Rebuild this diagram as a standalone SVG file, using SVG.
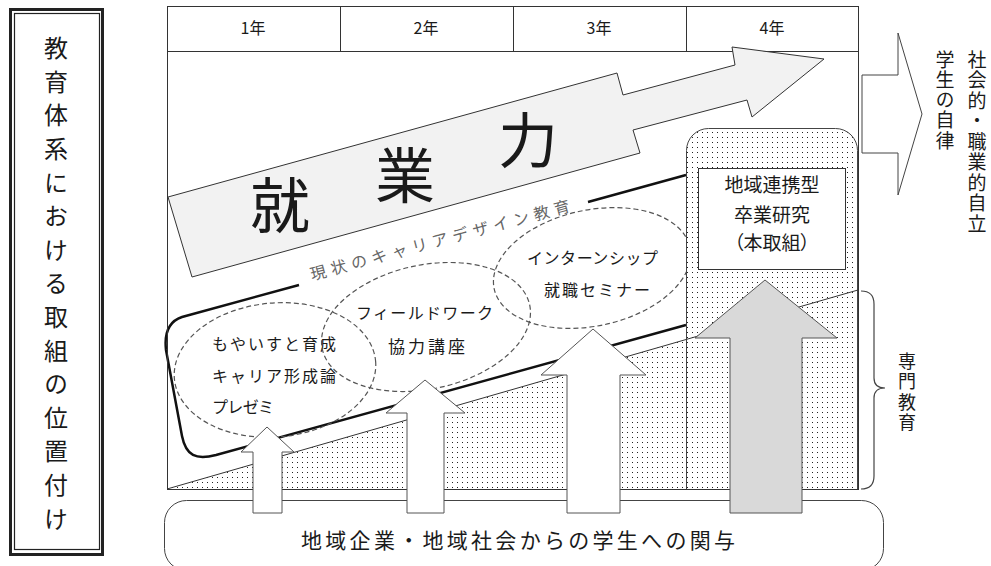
<svg xmlns="http://www.w3.org/2000/svg" width="991" height="566" viewBox="0 0 991 566">
<style>
text{font-family:"Noto Sans CJK JP","Noto Sans CJK SC",sans-serif;fill:#1a1a1a}
.vt{writing-mode:vertical-rl}
.ln{fill:none;stroke:#333;stroke-width:1}
.dash{fill:none;stroke:#555;stroke-width:1.2;stroke-dasharray:5 3}
.warr{fill:#fff;stroke:#555;stroke-width:1}
.t16{font-size:16px}
</style>
<defs>
<pattern id="dots" width="5" height="5" patternUnits="userSpaceOnUse">
<rect x="2" y="2" width="1" height="1" fill="#222"/>
</pattern>
</defs>
<rect width="991" height="566" fill="#fff"/>

<g id="left-title">
<rect x="10.5" y="9.5" width="92" height="545" fill="#fff" stroke="#222" stroke-width="3"/>
<rect x="14.5" y="13.5" width="85" height="536" fill="none" stroke="#222" stroke-width="1.2"/>
<text x="56" y="36" class="vt" font-size="24" letter-spacing="9.6">教育体系における取組の位置付け</text>
</g>

<g id="header">
<line x1="167" y1="6.5" x2="858" y2="6.5" class="ln"/>
<line x1="340.5" y1="6" x2="340.5" y2="51" class="ln"/>
<line x1="513.5" y1="6" x2="513.5" y2="51" class="ln"/>
<line x1="686.5" y1="6" x2="686.5" y2="51" class="ln"/>
<line x1="167" y1="51.5" x2="858" y2="51.5" class="ln"/>
<text x="253" y="34" class="t16" text-anchor="middle">1年</text>
<text x="426" y="34" class="t16" text-anchor="middle">2年</text>
<text x="599" y="34" class="t16" text-anchor="middle">3年</text>
<text x="772" y="34" class="t16" text-anchor="middle">4年</text>
</g>

<g id="senmon-area">
<polygon points="167,489 858,290 858,489" fill="url(#dots)"/>
<line x1="167" y1="489" x2="858" y2="290" class="ln"/>
</g>

<g id="shugyoryoku">
<polygon points="168,197 617,73 623,95 735,65 732,47 824,59 752,117 747,100 633,130 640,153 192,277" fill="#f2f2f2" stroke="#333" stroke-width="1"/>
<text font-size="60" text-anchor="middle"><tspan x="280" y="228">就</tspan><tspan x="405" y="198">業</tspan><tspan x="528" y="163">力</tspan></text>
</g>

<g id="career-design">
<path d="M299,285 L182,317 C170,321 164,332 166,350 L182,436 C186,456 196,460 216,455 L686,325" fill="none" stroke="#111" stroke-width="2.5"/>
<path d="M588,202 L686,175" fill="none" stroke="#111" stroke-width="2.5"/>
<text transform="translate(440,240) rotate(-15)" y="6" font-size="16" style="fill:#666" text-anchor="middle" textLength="268">現状のキャリアデザイン教育</text>
</g>

<g id="ellipse-1">
<ellipse cx="275" cy="370" rx="101" ry="67" transform="rotate(-5 275 370)" class="dash"/>
<text x="212" y="350" class="t16" textLength="124">もやいすと育成</text>
<text x="212" y="382" class="t16" textLength="124">キャリア形成論</text>
<text x="212" y="413" class="t16" textLength="62">プレゼミ</text>
</g>

<g id="ellipse-2">
<ellipse cx="426" cy="327" rx="106" ry="62" transform="rotate(-12 426 327)" class="dash"/>
<text x="356" y="319" class="t16" textLength="137">フィールドワーク</text>
<text x="388" y="353" font-size="17" textLength="77">協力講座</text>
</g>

<g id="ellipse-3">
<ellipse cx="592" cy="268" rx="100" ry="58" transform="rotate(-12 592 268)" class="dash"/>
<text x="527" y="264" class="t16" textLength="131">インターンシップ</text>
<text x="544" y="296" class="t16" textLength="106">就職セミナー</text>
</g>

<g id="sotsugyo-kenkyu">
<path d="M686.5,489 V150.5 A22,22 0 0 1 708.5,128.5 H835.5 A22,22 0 0 1 857.5,150.5 V489" fill="#fff"/>
<path d="M686.5,489 V150.5 A22,22 0 0 1 708.5,128.5 H835.5 A22,22 0 0 1 857.5,150.5 V489" fill="url(#dots)" stroke="#444" stroke-width="1"/>
<line x1="686" y1="339.5" x2="858" y2="290" class="ln"/>
<rect x="698.5" y="168.5" width="147" height="101" fill="#fff" stroke="#333" stroke-width="1"/>
<text font-size="19" text-anchor="middle" style="font-feature-settings:'palt'"><tspan x="772" y="192">地域連携型</tspan><tspan x="772" y="222">卒業研究</tspan><tspan x="772" y="250">（本取組）</tspan></text>
</g>

<g id="frame">
<rect x="167.5" y="6.5" width="691" height="483" class="ln"/>
</g>

<g id="community">
<rect x="164.5" y="500.5" width="719" height="70" rx="22" fill="#fff" stroke="#444" stroke-width="1"/>
<text x="518" y="548" font-size="21" text-anchor="middle" textLength="434">地域企業・地域社会からの学生への関与</text>
</g>

<g id="connectors">
<polygon points="253,513 253,452 241,452 267,427 294,452 282,452 282,513" class="warr"/>
<polygon points="407,513 407,413 386,413 425,380 465,413 444,413 444,513" class="warr"/>
<polygon points="567,513 567,375 541,375 593,329 646,375 620,375 620,513" class="warr"/>
<polygon points="730,513 730,338 695,338 765,280 837,338 802,338 802,513" fill="#d9d9d9" stroke="#555" stroke-width="1"/>
<polygon points="862,75 898,75 898,33 922,114 898,195 898,153 862,153" fill="#fff" stroke="#444" stroke-width="1"/>
<path d="M861,291 Q874,291 874,304 L874,378 Q874,388 885,388 Q874,388 874,398 L874,476 Q874,489 861,489" fill="none" stroke="#444" stroke-width="1.2"/>
</g>

<g id="jiritsu">
<text x="977" y="50" class="vt" font-size="19" letter-spacing="1.5">社会的・職業的自立</text>
<text x="945" y="50" class="vt" font-size="19" letter-spacing="1.2">学生の自律</text>
</g>

<g id="senmon-label">
<text x="907" y="352" class="vt" font-size="18" letter-spacing="2.5">専門教育</text>
</g>
</svg>
